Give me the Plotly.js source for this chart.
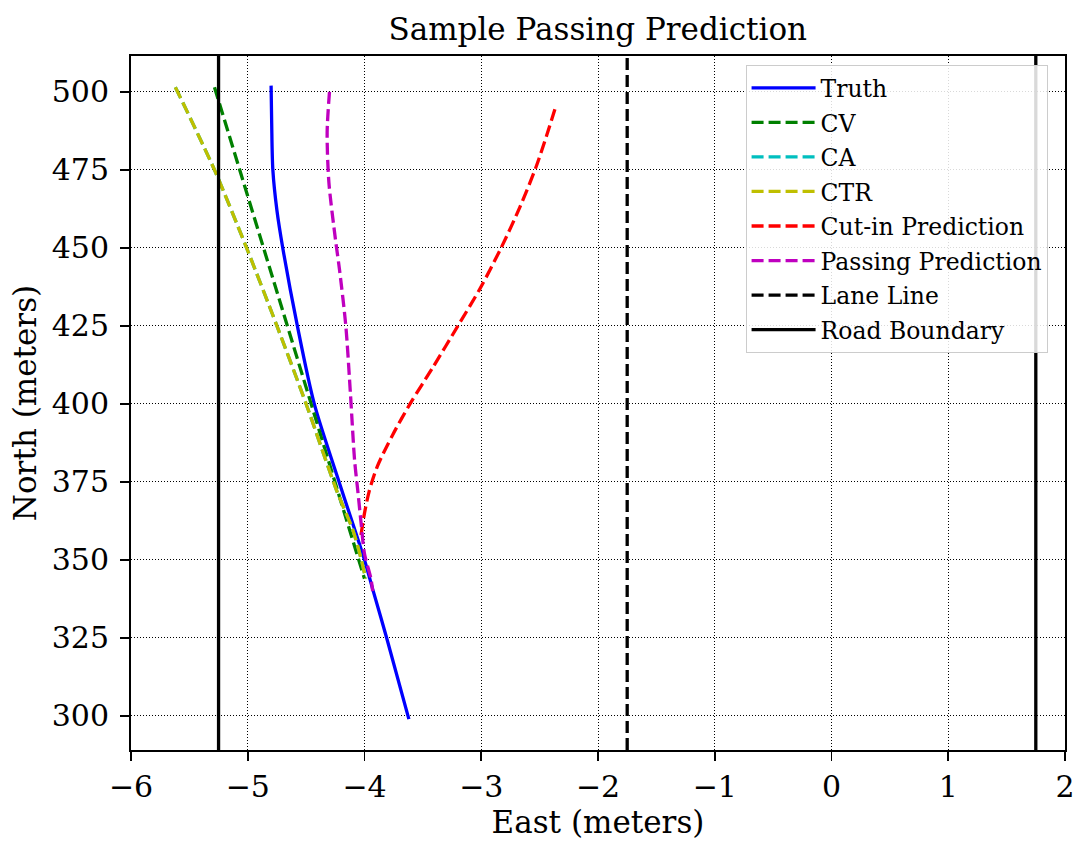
<!DOCTYPE html>
<html>
<head>
<meta charset="utf-8">
<script src="https://cdn.plot.ly/plotly-3.0.1.min.js"></script>
<style>html,body{margin:0;padding:0;background:#fff;}#chart{width:1078px;height:844px;}</style>
</head>
<body>
<div id="chart"></div>
<script>
// ---- data ----
const truthEast  = [-4.80, -4.795, -4.785, -4.75, -4.70, -4.575, -4.43, -4.20, -4.00, -3.925, -3.81, -3.62];
const truthNorth = [502, 490, 475, 462, 450, 425, 400, 373, 350, 340, 325, 299];

const cvEast  = [-5.285, -4.00];
const cvNorth = [501.5, 344];

const ctrEast  = [-5.62, -5.285, -5.01, -4.75, -4.50, -4.24, -4.10, -4.03, -3.99];
const ctrNorth = [501.5, 475, 450, 425, 400, 372.4, 359.6, 350.5, 344];

const caEast  = [-5.62, -5.285, -5.01, -4.75, -4.50, -4.24, -4.10, -4.03, -3.99];
const caNorth = [501.5, 475, 450, 425, 400, 372.4, 359.6, 350.5, 344];

const cutinEast  = [-4.03, -4.00, -3.96, -3.89, -3.76, -3.61, -3.41, -3.20, -3.01, -2.83, -2.67, -2.53, -2.44, -2.36];
const cutinNorth = [358, 365, 372, 380, 390, 400, 412, 425, 437, 450, 463, 476, 486, 495.5];

const passEast  = [-4.30, -4.32, -4.305, -4.248, -4.214, -4.16, -4.12, -4.085, -4.057, -4.027, -4.00, -3.945, -3.93];
const passNorth = [500, 487, 471, 452.5, 443, 425, 403, 382, 372, 361, 352, 344, 340];

const laneLineEast = -1.75;
const roadBoundaryEast = [-5.25, 1.75];
const yExtent = [289.1, 511.5];

const xTicks = [-6, -5, -4, -3, -2, -1, 0, 1, 2];
const xTickText = ['\u22126', '\u22125', '\u22124', '\u22123', '\u22122', '\u22121', '0', '1', '2'];
const yTicks = [300, 325, 350, 375, 400, 425, 450, 475, 500];

const FONT = 'DejaVu Serif, serif';
const DASH = '12px,5px';

function tr(name, x, y, color, dash, group, show, smooth) {
  const line = {color: color, width: 3.3, dash: dash};
  if (smooth) { line.shape = 'spline'; line.smoothing = 0.8; }
  return {
    type: 'scatter', mode: 'lines', name: name, x: x, y: y,
    line: line, legendgroup: group, showlegend: show !== false, hoverinfo: 'skip'
  };
}

const traces = [
  tr('Truth', truthEast, truthNorth, '#0000ff', 'solid', 'g1', true, true),
  tr('CV', cvEast, cvNorth, '#008000', DASH, 'g2', true, false),
  tr('CA', caEast, caNorth, '#00bfbf', DASH, 'g3', true, true),
  tr('CTR', ctrEast, ctrNorth, '#bfbf00', DASH, 'g4', true, true),
  tr('Cut-in Prediction', cutinEast, cutinNorth, '#ff0000', DASH, 'g5', true, true),
  tr('Passing Prediction', passEast, passNorth, '#bf00bf', DASH, 'g6', true, true),
  tr('Lane Line', [laneLineEast, laneLineEast], yExtent, '#000000', DASH, 'g7', true, false),
  tr('Road Boundary', [roadBoundaryEast[0], roadBoundaryEast[0]], yExtent, '#000000', 'solid', 'g8', true, false),
  tr('Road Boundary', [roadBoundaryEast[1], roadBoundaryEast[1]], yExtent, '#000000', 'solid', 'g8', false, false)
];

const axisCommon = {
  showline: true, linecolor: '#000', linewidth: 2, mirror: true,
  ticks: 'outside', ticklen: 9, tickwidth: 1.6, tickcolor: '#000',
  showgrid: true, gridcolor: '#000', gridwidth: 1, griddash: '1px,2px',
  zeroline: false, tickfont: {family: FONT, size: 30, color: '#000'}
};

const layout = {
  width: 1078, height: 844,
  paper_bgcolor: '#fff', plot_bgcolor: '#fff',
  margin: {l: 131, r: 13, t: 56, b: 94},
  font: {family: FONT, color: '#000'},
  title: {text: 'Sample Passing Prediction', font: {family: FONT, size: 31, color: '#000'},
          x: 0.5545, xanchor: 'center', y: 0.965, yanchor: 'middle', yref: 'container'},
  xaxis: Object.assign({}, axisCommon, {
    range: [-6, 2], tickvals: xTicks, ticktext: xTickText,
    title: {text: 'East (meters)', font: {family: FONT, size: 31, color: '#000'}, standoff: 6}
  }),
  yaxis: Object.assign({}, axisCommon, {
    range: yExtent, tickvals: yTicks, ticklabelstandoff: 5,
    title: {text: 'North (meters)', font: {family: FONT, size: 31, color: '#000'}, standoff: 6}
  }),
  legend: {
    x: 0.658, y: 0.987, xanchor: 'left', yanchor: 'top',
    bgcolor: 'rgba(255,255,255,0.85)', bordercolor: '#cccccc', borderwidth: 1,
    font: {family: FONT, size: 23.5, color: '#000'},
    tracegroupgap: 1, traceorder: 'grouped', itemwidth: 64
  },
  showlegend: true
};

Plotly.newPlot('chart', traces, layout, {displayModeBar: false, staticPlot: true});
</script>
</body>
</html>
